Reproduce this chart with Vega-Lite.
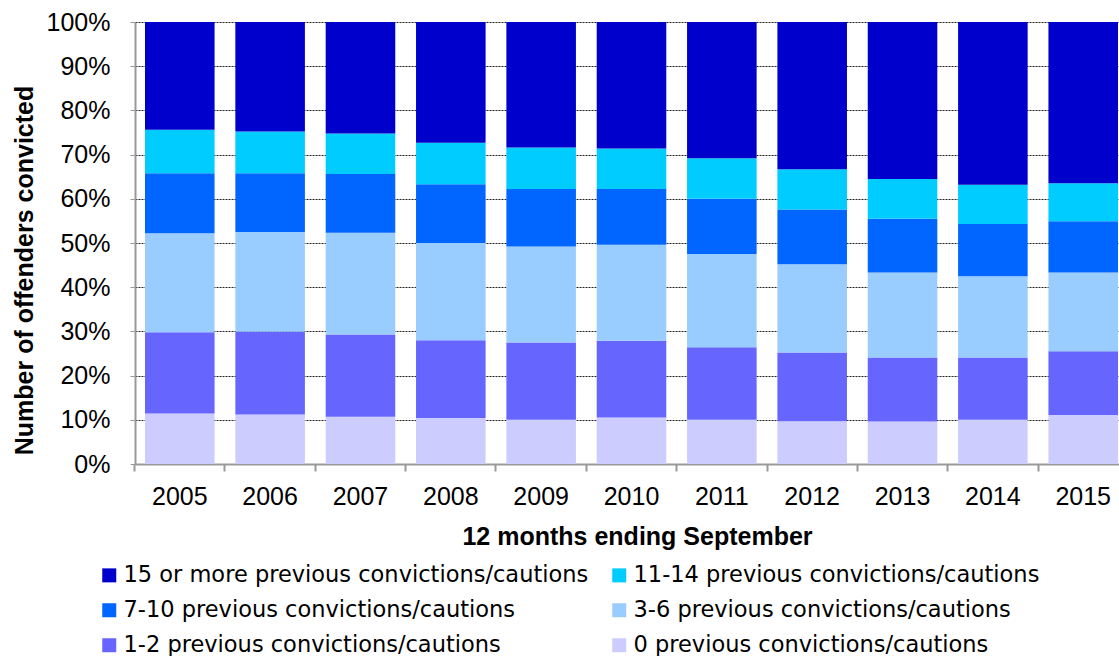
{
  "$schema": "https://vega.github.io/schema/vega-lite/v6.json",
  "width": 984,
  "height": 442,
  "autosize": {"type": "none"},
  "padding": {"left": 135, "top": 22, "right": 0, "bottom": 192},
  "background": "white",
  "config": {
    "view": {"stroke": null},
    "font": "Liberation Sans",
    "axis": {"labelFont": "Liberation Sans", "titleFont": "Liberation Sans", "labelColor": "#000", "titleColor": "#000"}
  },
  "data": {"values": [
    {"year": "2005", "cat": "0 previous convictions/cautions", "ord": 1, "pct": 11.4},
    {"year": "2005", "cat": "1-2 previous convictions/cautions", "ord": 2, "pct": 18.4},
    {"year": "2005", "cat": "3-6 previous convictions/cautions", "ord": 3, "pct": 22.4},
    {"year": "2005", "cat": "7-10 previous convictions/cautions", "ord": 4, "pct": 13.6},
    {"year": "2005", "cat": "11-14 previous convictions/cautions", "ord": 5, "pct": 9.8},
    {"year": "2005", "cat": "15 or more previous convictions/cautions", "ord": 6, "pct": 24.4},
    {"year": "2006", "cat": "0 previous convictions/cautions", "ord": 1, "pct": 11.2},
    {"year": "2006", "cat": "1-2 previous convictions/cautions", "ord": 2, "pct": 18.7},
    {"year": "2006", "cat": "3-6 previous convictions/cautions", "ord": 3, "pct": 22.6},
    {"year": "2006", "cat": "7-10 previous convictions/cautions", "ord": 4, "pct": 13.3},
    {"year": "2006", "cat": "11-14 previous convictions/cautions", "ord": 5, "pct": 9.4},
    {"year": "2006", "cat": "15 or more previous convictions/cautions", "ord": 6, "pct": 24.8},
    {"year": "2007", "cat": "0 previous convictions/cautions", "ord": 1, "pct": 10.7},
    {"year": "2007", "cat": "1-2 previous convictions/cautions", "ord": 2, "pct": 18.6},
    {"year": "2007", "cat": "3-6 previous convictions/cautions", "ord": 3, "pct": 23.0},
    {"year": "2007", "cat": "7-10 previous convictions/cautions", "ord": 4, "pct": 13.3},
    {"year": "2007", "cat": "11-14 previous convictions/cautions", "ord": 5, "pct": 9.2},
    {"year": "2007", "cat": "15 or more previous convictions/cautions", "ord": 6, "pct": 25.2},
    {"year": "2008", "cat": "0 previous convictions/cautions", "ord": 1, "pct": 10.4},
    {"year": "2008", "cat": "1-2 previous convictions/cautions", "ord": 2, "pct": 17.6},
    {"year": "2008", "cat": "3-6 previous convictions/cautions", "ord": 3, "pct": 22.0},
    {"year": "2008", "cat": "7-10 previous convictions/cautions", "ord": 4, "pct": 13.3},
    {"year": "2008", "cat": "11-14 previous convictions/cautions", "ord": 5, "pct": 9.4},
    {"year": "2008", "cat": "15 or more previous convictions/cautions", "ord": 6, "pct": 27.3},
    {"year": "2009", "cat": "0 previous convictions/cautions", "ord": 1, "pct": 10.0},
    {"year": "2009", "cat": "1-2 previous convictions/cautions", "ord": 2, "pct": 17.5},
    {"year": "2009", "cat": "3-6 previous convictions/cautions", "ord": 3, "pct": 21.7},
    {"year": "2009", "cat": "7-10 previous convictions/cautions", "ord": 4, "pct": 13.0},
    {"year": "2009", "cat": "11-14 previous convictions/cautions", "ord": 5, "pct": 9.4},
    {"year": "2009", "cat": "15 or more previous convictions/cautions", "ord": 6, "pct": 28.4},
    {"year": "2010", "cat": "0 previous convictions/cautions", "ord": 1, "pct": 10.5},
    {"year": "2010", "cat": "1-2 previous convictions/cautions", "ord": 2, "pct": 17.4},
    {"year": "2010", "cat": "3-6 previous convictions/cautions", "ord": 3, "pct": 21.7},
    {"year": "2010", "cat": "7-10 previous convictions/cautions", "ord": 4, "pct": 12.6},
    {"year": "2010", "cat": "11-14 previous convictions/cautions", "ord": 5, "pct": 9.2},
    {"year": "2010", "cat": "15 or more previous convictions/cautions", "ord": 6, "pct": 28.6},
    {"year": "2011", "cat": "0 previous convictions/cautions", "ord": 1, "pct": 10.0},
    {"year": "2011", "cat": "1-2 previous convictions/cautions", "ord": 2, "pct": 16.4},
    {"year": "2011", "cat": "3-6 previous convictions/cautions", "ord": 3, "pct": 21.1},
    {"year": "2011", "cat": "7-10 previous convictions/cautions", "ord": 4, "pct": 12.5},
    {"year": "2011", "cat": "11-14 previous convictions/cautions", "ord": 5, "pct": 9.2},
    {"year": "2011", "cat": "15 or more previous convictions/cautions", "ord": 6, "pct": 30.8},
    {"year": "2012", "cat": "0 previous convictions/cautions", "ord": 1, "pct": 9.7},
    {"year": "2012", "cat": "1-2 previous convictions/cautions", "ord": 2, "pct": 15.5},
    {"year": "2012", "cat": "3-6 previous convictions/cautions", "ord": 3, "pct": 20.0},
    {"year": "2012", "cat": "7-10 previous convictions/cautions", "ord": 4, "pct": 12.4},
    {"year": "2012", "cat": "11-14 previous convictions/cautions", "ord": 5, "pct": 9.1},
    {"year": "2012", "cat": "15 or more previous convictions/cautions", "ord": 6, "pct": 33.3},
    {"year": "2013", "cat": "0 previous convictions/cautions", "ord": 1, "pct": 9.6},
    {"year": "2013", "cat": "1-2 previous convictions/cautions", "ord": 2, "pct": 14.5},
    {"year": "2013", "cat": "3-6 previous convictions/cautions", "ord": 3, "pct": 19.2},
    {"year": "2013", "cat": "7-10 previous convictions/cautions", "ord": 4, "pct": 12.2},
    {"year": "2013", "cat": "11-14 previous convictions/cautions", "ord": 5, "pct": 9.0},
    {"year": "2013", "cat": "15 or more previous convictions/cautions", "ord": 6, "pct": 35.5},
    {"year": "2014", "cat": "0 previous convictions/cautions", "ord": 1, "pct": 10.0},
    {"year": "2014", "cat": "1-2 previous convictions/cautions", "ord": 2, "pct": 14.1},
    {"year": "2014", "cat": "3-6 previous convictions/cautions", "ord": 3, "pct": 18.4},
    {"year": "2014", "cat": "7-10 previous convictions/cautions", "ord": 4, "pct": 11.8},
    {"year": "2014", "cat": "11-14 previous convictions/cautions", "ord": 5, "pct": 8.9},
    {"year": "2014", "cat": "15 or more previous convictions/cautions", "ord": 6, "pct": 36.8},
    {"year": "2015", "cat": "0 previous convictions/cautions", "ord": 1, "pct": 11.1},
    {"year": "2015", "cat": "1-2 previous convictions/cautions", "ord": 2, "pct": 14.4},
    {"year": "2015", "cat": "3-6 previous convictions/cautions", "ord": 3, "pct": 17.8},
    {"year": "2015", "cat": "7-10 previous convictions/cautions", "ord": 4, "pct": 11.6},
    {"year": "2015", "cat": "11-14 previous convictions/cautions", "ord": 5, "pct": 8.6},
    {"year": "2015", "cat": "15 or more previous convictions/cautions", "ord": 6, "pct": 36.5}
  ]},
  "mark": {"type": "bar"},
  "encoding": {
    "x": {
      "field": "year", "type": "ordinal",
      "scale": {"paddingInner": 0.23, "paddingOuter": 0.0609, "align": 0.909},
      "axis": {
        "title": "12 months ending September",
        "titleFontSize": 25, "titleFontWeight": "bold",
        "titleX": 502, "titleY": 80, "titleAlign": "center", "titleBaseline": "alphabetic", "titleAnchor": null,
        "labelFontSize": 25, "labelAngle": 0, "labelBaseline": "alphabetic", "labelPadding": 33,
        "bandPosition": -0.1494,
        "tickSize": 7, "tickColor": "#999", "tickWidth": 2,
        "domainColor": "#999", "domainWidth": 2,
        "grid": false
      }
    },
    "y": {
      "field": "pct", "type": "quantitative", "stack": "normalize",
      "scale": {"domain": [0, 1], "nice": false},
      "axis": {
        "title": "Number of offenders convicted",
        "titleFontSize": 25, "titleFontWeight": "bold",
        "titleX": -103, "titleY": 248, "titleAngle": -90, "titleAlign": "center", "titleBaseline": "alphabetic", "titleAnchor": null,
        "values": [0, 0.1, 0.2, 0.3, 0.4, 0.5, 0.6, 0.7, 0.8, 0.9, 1],
        "format": ".0%",
        "labelFontSize": 25, "labelPadding": 20, "labelBaseline": "middle",
        "tickSize": 5, "tickColor": "#999", "tickWidth": 1,
        "domainColor": "#999", "domainWidth": 2,
        "grid": true, "gridColor": "#222", "gridDash": [2, 1], "gridWidth": 1
      }
    },
    "color": {
      "field": "cat", "type": "nominal",
      "scale": {
        "domain": ["15 or more previous convictions/cautions", "11-14 previous convictions/cautions", "7-10 previous convictions/cautions", "3-6 previous convictions/cautions", "1-2 previous convictions/cautions", "0 previous convictions/cautions"],
        "range": ["#0000CC", "#00CCFF", "#0066FF", "#99CCFF", "#6666FF", "#CCCCFF"]
      },
      "legend": {
        "title": null, "orient": "none", "legendX": -37, "legendY": 542,
        "columns": 2, "direction": "horizontal",
        "symbolType": "square", "symbolSize": 196, "symbolStrokeWidth": 0,
        "labelFont": "DejaVu Sans", "labelFontSize": 22.5, "labelColor": "#000", "labelLimit": 0, "labelOffset": 3,
        "rowPadding": 12, "columnPadding": 19, "padding": 0
      }
    },
    "order": {"field": "ord", "type": "quantitative", "sort": "ascending"}
  }
}
